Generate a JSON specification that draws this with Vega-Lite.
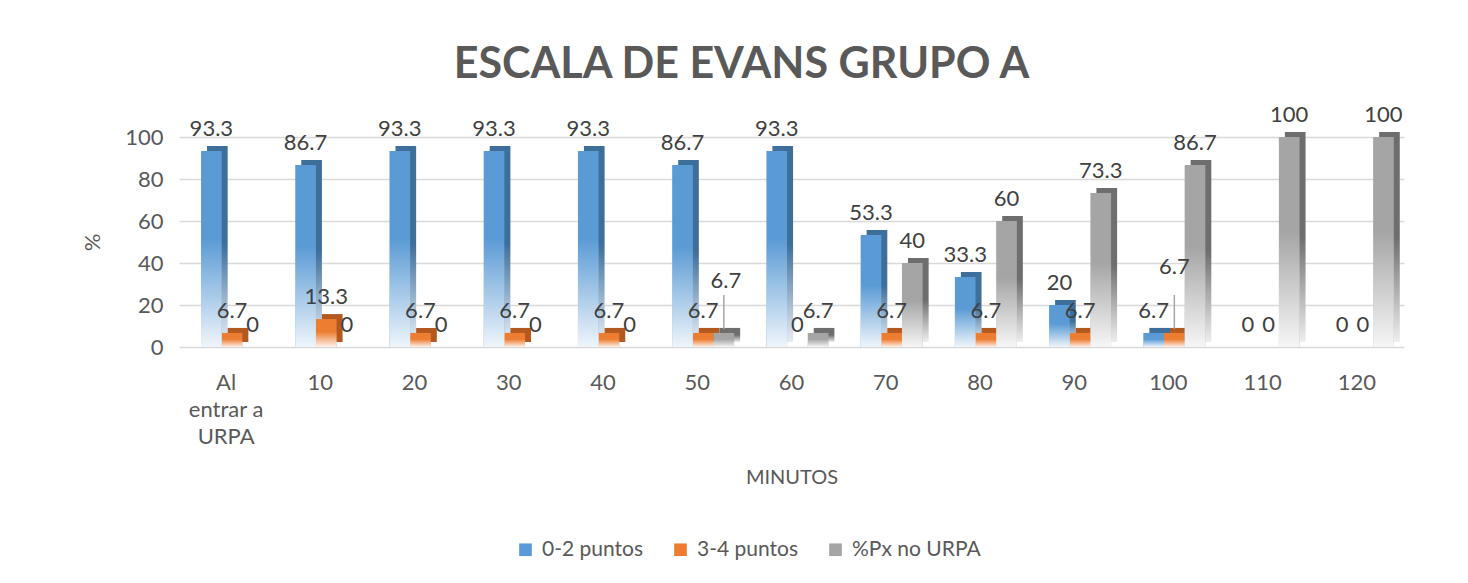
{
  "$schema": "https://vega.github.io/schema/vega-lite/v6.json",
  "width": 1225,
  "height": 210,
  "autosize": {"type": "none"},
  "padding": {"left": 179, "top": 137, "right": 64, "bottom": 236},
  "background": "white",
  "title": {"text": "ESCALA DE EVANS GRUPO A", "font": "Lato", "fontSize": 43, "fontWeight": "bold", "color": "#595959", "anchor": "middle", "dx": -50, "offset": 17},
  "config": {
    "view": {"stroke": null},
    "font": "Lato",
    "axis": {"labelFont": "Lato", "titleFont": "Lato", "labelColor": "#595959", "titleColor": "#595959", "titleFontWeight": "normal"},
    "legend": {"labelFont": "Lato"}
  },
  "resolve": {"scale": {"xOffset": "independent"}},
  "data": {"values": [
    {"min": "Al entrar a URPA", "serie": "0-2 puntos", "valor": 93.3},
    {"min": "Al entrar a URPA", "serie": "3-4 puntos", "valor": 6.7},
    {"min": "Al entrar a URPA", "serie": "%Px no URPA", "valor": 0},
    {"min": "10", "serie": "0-2 puntos", "valor": 86.7},
    {"min": "10", "serie": "3-4 puntos", "valor": 13.3},
    {"min": "10", "serie": "%Px no URPA", "valor": 0},
    {"min": "20", "serie": "0-2 puntos", "valor": 93.3},
    {"min": "20", "serie": "3-4 puntos", "valor": 6.7},
    {"min": "20", "serie": "%Px no URPA", "valor": 0},
    {"min": "30", "serie": "0-2 puntos", "valor": 93.3},
    {"min": "30", "serie": "3-4 puntos", "valor": 6.7},
    {"min": "30", "serie": "%Px no URPA", "valor": 0},
    {"min": "40", "serie": "0-2 puntos", "valor": 93.3},
    {"min": "40", "serie": "3-4 puntos", "valor": 6.7},
    {"min": "40", "serie": "%Px no URPA", "valor": 0},
    {"min": "50", "serie": "0-2 puntos", "valor": 86.7},
    {"min": "50", "serie": "3-4 puntos", "valor": 6.7},
    {"min": "50", "serie": "%Px no URPA", "valor": 6.7},
    {"min": "60", "serie": "0-2 puntos", "valor": 93.3},
    {"min": "60", "serie": "3-4 puntos", "valor": 0},
    {"min": "60", "serie": "%Px no URPA", "valor": 6.7},
    {"min": "70", "serie": "0-2 puntos", "valor": 53.3},
    {"min": "70", "serie": "3-4 puntos", "valor": 6.7},
    {"min": "70", "serie": "%Px no URPA", "valor": 40},
    {"min": "80", "serie": "0-2 puntos", "valor": 33.3},
    {"min": "80", "serie": "3-4 puntos", "valor": 6.7},
    {"min": "80", "serie": "%Px no URPA", "valor": 60},
    {"min": "90", "serie": "0-2 puntos", "valor": 20},
    {"min": "90", "serie": "3-4 puntos", "valor": 6.7},
    {"min": "90", "serie": "%Px no URPA", "valor": 73.3},
    {"min": "100", "serie": "0-2 puntos", "valor": 6.7},
    {"min": "100", "serie": "3-4 puntos", "valor": 6.7},
    {"min": "100", "serie": "%Px no URPA", "valor": 86.7},
    {"min": "110", "serie": "0-2 puntos", "valor": 0},
    {"min": "110", "serie": "3-4 puntos", "valor": 0},
    {"min": "110", "serie": "%Px no URPA", "valor": 100},
    {"min": "120", "serie": "0-2 puntos", "valor": 0},
    {"min": "120", "serie": "3-4 puntos", "valor": 0},
    {"min": "120", "serie": "%Px no URPA", "valor": 100}
  ]},
  "encoding": {
    "x": {
      "field": "min", "type": "nominal", "sort": null,
      "scale": {"type": "band", "paddingInner": 0.34, "paddingOuter": 0.17},
      "axis": {
        "title": "MINUTOS", "titleFontSize": 20, "titlePadding": 20,
        "labelAngle": 0, "labelFontSize": 22, "labelPadding": 25, "labelLineHeight": 27,
        "labelExpr": "datum.label == 'Al entrar a URPA' ? ['Al', 'entrar a', 'URPA'] : datum.label",
        "domain": false, "ticks": false
      }
    },
    "xOffset": {"field": "serie", "type": "nominal", "sort": ["0-2 puntos", "3-4 puntos", "%Px no URPA"], "scale": {"type": "band", "domain": ["0-2 puntos", "3-4 puntos", "%Px no URPA"], "range": [6, 68], "paddingInner": 0, "paddingOuter": 0}},
    "y": {
      "field": "valor", "type": "quantitative",
      "scale": {"domain": [0, 100], "nice": false},
      "axis": {
        "title": "%", "titleFontSize": 22, "titlePadding": 20,
        "values": [0, 20, 40, 60, 80, 100], "labelFontSize": 22, "labelPadding": 16,
        "domain": false, "ticks": false, "gridColor": "#D9D9D9", "gridWidth": 1.5
      }
    }
  },
  "layer": [
    {
      "transform": [{"filter": "datum.serie == '0-2 puntos'"}],
      "encoding": {"xOffset": {"field": "serie", "type": "nominal", "scale": {"type": "band", "domain": ["0-2 puntos", "3-4 puntos", "%Px no URPA"], "range": [12, 74], "paddingInner": 0, "paddingOuter": 0}}},
      "mark": {"type": "bar", "yOffset": -5, "color": {"gradient": "linear", "x1": 0, "y1": 0, "x2": 0, "y2": 1, "stops": [{"offset": 0, "color": "#3E6E9A"}, {"offset": 0.5, "color": "#3E6E9A"}, {"offset": 1, "color": "#E4EDF6"}]}}
    },
    {
      "transform": [{"filter": "datum.serie == '3-4 puntos'"}],
      "encoding": {"xOffset": {"field": "serie", "type": "nominal", "scale": {"type": "band", "domain": ["0-2 puntos", "3-4 puntos", "%Px no URPA"], "range": [12, 74], "paddingInner": 0, "paddingOuter": 0}}},
      "mark": {"type": "bar", "yOffset": -5, "color": "#B3591F"}
    },
    {
      "transform": [{"filter": "datum.serie == '%Px no URPA'"}],
      "encoding": {"xOffset": {"field": "serie", "type": "nominal", "scale": {"type": "band", "domain": ["0-2 puntos", "3-4 puntos", "%Px no URPA"], "range": [12, 74], "paddingInner": 0, "paddingOuter": 0}}},
      "mark": {"type": "bar", "yOffset": -5, "color": {"gradient": "linear", "x1": 0, "y1": 0, "x2": 0, "y2": 1, "stops": [{"offset": 0, "color": "#6E6E6E"}, {"offset": 0.5, "color": "#6E6E6E"}, {"offset": 1, "color": "#EEEEEE"}]}}
    },
    {
      "mark": {"type": "bar"},
      "encoding": {
        "color": {
          "field": "serie", "type": "nominal",
          "scale": {"domain": ["0-2 puntos", "3-4 puntos", "%Px no URPA"], "range": ["#5B9BD5", "#ED7D31", "#A5A5A5"]},
          "legend": {
            "title": null, "orient": "none", "direction": "horizontal", "legendX": 336, "legendY": 402,
            "labelFontSize": 21, "labelColor": "#595959", "symbolType": "square", "symbolSize": 160,
            "symbolStrokeWidth": 0, "columnPadding": 26, "labelOffset": 6
          }
        }
      }
    },
    {
      "mark": {"type": "bar", "color": {"gradient": "linear", "x1": 0, "y1": 0, "x2": 0, "y2": 1, "stops": [{"offset": 0, "color": "rgba(255,255,255,0)"}, {"offset": 0.45, "color": "rgba(255,255,255,0)"}, {"offset": 1, "color": "rgba(255,255,255,0.9)"}]}}
    },
    {
      "transform": [{"filter": "(datum.min == '50' && datum.serie == '%Px no URPA') || (datum.min == '100' && datum.serie == '3-4 puntos')"}],
      "mark": {"type": "rule", "color": "#A6A6A6", "strokeWidth": 1.5, "yOffset": -4, "y2Offset": -38},
      "encoding": {"y2": {"field": "valor"}}
    },
    {
      "transform": [{"filter": "!((datum.min == '50' && datum.serie == '%Px no URPA') || (datum.min == '100' && datum.serie == '3-4 puntos'))"}],
      "mark": {"type": "text", "dy": -22, "fontSize": 22, "color": "#404040", "font": "Lato"},
      "encoding": {"text": {"field": "valor", "type": "quantitative", "format": ".1~f"}}
    },
    {
      "transform": [{"filter": "datum.min == '50' && datum.serie == '%Px no URPA'"}],
      "mark": {"type": "text", "dy": -52, "dx": 2, "fontSize": 22, "color": "#404040", "font": "Lato"},
      "encoding": {"text": {"field": "valor", "type": "quantitative", "format": ".1~f"}}
    },
    {
      "transform": [{"filter": "datum.min == '100' && datum.serie == '3-4 puntos'"}],
      "mark": {"type": "text", "dy": -66, "fontSize": 22, "color": "#404040", "font": "Lato"},
      "encoding": {"text": {"field": "valor", "type": "quantitative", "format": ".1~f"}}
    }
  ]
}
